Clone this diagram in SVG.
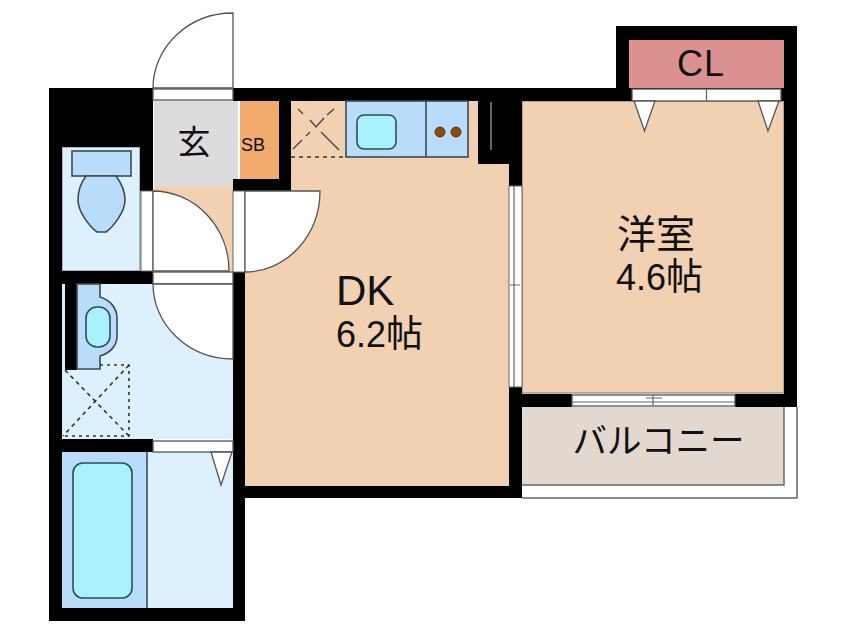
<svg xmlns="http://www.w3.org/2000/svg" width="846" height="634" viewBox="0 0 846 634">
<style>
.w{fill:#000}
.ln{fill:#fff;stroke:#555;stroke-width:1.3}
.ol{stroke:#444;stroke-width:1.3}
.fx{fill:#b9dcfb;stroke:#3c4a55;stroke-width:1.6}
.ba{fill:#a9f2fd;stroke:#2f4c58;stroke-width:1.6}
.ds{fill:none;stroke:#333;stroke-width:1.5;stroke-dasharray:4 4}
.t{font-family:"Liberation Sans","Noto Sans CJK JP",sans-serif;fill:#111}
.j{font-family:"Noto Sans CJK JP","Liberation Sans",sans-serif;fill:#111}
</style>
<rect width="846" height="634" fill="#fff"/>
<g id="floors">
<rect x="62" y="147" width="78" height="124" fill="#dcf0fe" stroke="#777" stroke-width="1"/>
<rect x="62" y="284" width="171" height="155" fill="#dcf0fe"/>
<rect x="62" y="452" width="171" height="156" fill="#dcf0fe"/>
<rect x="154" y="101" width="84" height="85" fill="#dcdcde"/>
<rect x="154" y="186" width="79" height="85" fill="#f2d1b3"/>
<rect x="240" y="101" width="39" height="78" fill="#f2ab6c"/>
<path d="M291 101H478V164H509V486H245V191H291Z" fill="#f2d1b3"/>
<rect x="522" y="101" width="262" height="292" fill="#f2d1b3" stroke="#777" stroke-width="1"/>
<rect x="629" y="40" width="155" height="48" fill="#dc9191"/>
<rect x="522" y="407" width="262" height="78" fill="#e2d8d0"/>
</g>
<g id="walls">
<path class="w" d="M49 88H153V191H140V147H62V271H153V284H77V370H65V284H62V439H153V452H62V608H233V272H245V486H509V387H522V498H245V621H49Z"/>
<path class="w" d="M233 88H616V26H797V407H735V394H784V40H629V88H784V101H522V186H509V164H478V101H291V191H233V179H279V101H233Z"/>
<rect class="w" x="522" y="394" width="50" height="13"/>
</g>
<g id="balcony-rail">
<path d="M522 485H784V407M522 498H797V407" fill="none" stroke="#666" stroke-width="1.5"/>
</g>
<g id="entrance">
<rect class="ln" x="153" y="89" width="80" height="11"/>
<path class="ln" d="M153 88A80 75 0 0 1 233 13V88Z"/>
<text class="j" x="194" y="154" font-size="33" text-anchor="middle">玄</text>
</g>
<g id="shoe-box">
<text class="t" x="253" y="151" font-size="18" text-anchor="middle">SB</text>
</g>
<g id="toilet">
<rect class="fx" x="72" y="151" width="59" height="25"/>
<path class="fx" d="M86 176C80 184 78 192 78 200C78 212 90 227 97 232H106C113 227 125 212 125 200C125 192 122 184 116 176Z"/>
<rect x="141" y="191" width="12" height="80" fill="#fff" stroke="#666" stroke-width="1"/>
</g>
<g id="hall-doors">
<path class="ln" stroke-width="1.5" d="M153 191A76 80 0 0 1 229 271H153Z"/>
<rect x="233" y="191" width="12" height="81" fill="#fff" stroke="#666" stroke-width="1"/>
<path class="ln" stroke-width="1.5" d="M245 191H320A75 81 0 0 1 245 272Z"/>
<rect class="ln" x="153" y="272" width="80" height="12"/>
</g>
<g id="washroom">
<path class="ln" stroke-width="1.5" d="M153 284H233V359A80 75 0 0 1 153 284Z"/>
<path class="fx" d="M77 284H100V297C110 300 117 308 117 318V336C117 346 110 353 100 356V369H77Z"/>
<rect class="ba" x="86" y="307" width="24" height="40" rx="11"/>
<path d="M65 370L129 436M129 365L63 436" fill="none" stroke="#333" stroke-width="1.6" stroke-dasharray="4 4"/>
<path d="M100 365H129V436H63" fill="none" stroke="#333" stroke-width="1.6" stroke-dasharray="3 4"/>
</g>
<g id="bathroom">
<rect class="ln" x="153" y="441" width="80" height="11"/>
<rect x="62" y="452" width="85" height="156" fill="#b9dcfb"/>
<path d="M147 452V608" stroke="#3c4a55" stroke-width="1.6"/>
<rect class="ba" x="73" y="463" width="59" height="135" rx="10"/>
<path class="ln" d="M211 452H232L221 485Z"/>
</g>
<g id="kitchen">
<rect class="fx" x="346" y="101" width="122" height="56"/>
<path d="M426 101V157" stroke="#3c4a55" stroke-width="1.6"/>
<rect class="ba" x="357" y="115" width="39" height="34" rx="7"/>
<circle cx="440" cy="132" r="5" fill="#8b4a10" stroke="#5a3410"/>
<circle cx="456" cy="132" r="5" fill="#8b4a10" stroke="#5a3410"/>
<path class="ds" d="M291 157H346"/>
<path d="M298 109L303 114M310 120L316 127L324 118M327 115L334 109M321 132L339 150M310 132L306 136M302 140L293 149" fill="none" stroke="#444" stroke-width="1.4"/>
<path d="M491 102V150" stroke="#8f8078" stroke-width="1.5"/>
</g>
<g id="dk-room">
<text class="t" x="336" y="305" font-size="42">DK</text>
<text class="t" x="336" y="347" font-size="36">6.2<tspan class="j" font-size="37">帖</tspan></text>
</g>
<g id="sliding-door">
<rect x="509" y="186" width="13" height="201" fill="#fff" stroke="#666" stroke-width="1"/>
<path d="M514 186V387M510 285H520M514 275V295" stroke="#666" stroke-width="1.2" fill="none"/>
</g>
<g id="western-room">
<text class="j" x="656" y="248" font-size="39" text-anchor="middle">洋室</text>
<text class="t" x="616" y="290" font-size="36">4.6<tspan class="j" font-size="37">帖</tspan></text>
</g>
<g id="closet">
<text class="t" x="701" y="76" font-size="36" text-anchor="middle" letter-spacing="1">CL</text>
<rect class="ln" x="632" y="89" width="149" height="12"/>
<path d="M706.500 89V101" stroke="#666" stroke-width="1.3"/>
<path class="ln" d="M634 101H655L644.500 131Z"/>
<path class="ln" d="M758 101H779L768 131Z"/>
</g>
<g id="balcony">
<rect class="ln" x="572" y="395" width="163" height="11"/>
<path d="M572 402H735M646 398H662M653 395V406" stroke="#666" stroke-width="1.2" fill="none"/>
<text class="j" x="658.500" y="453" font-size="34.500" text-anchor="middle">バルコニー</text>
</g>
</svg>
